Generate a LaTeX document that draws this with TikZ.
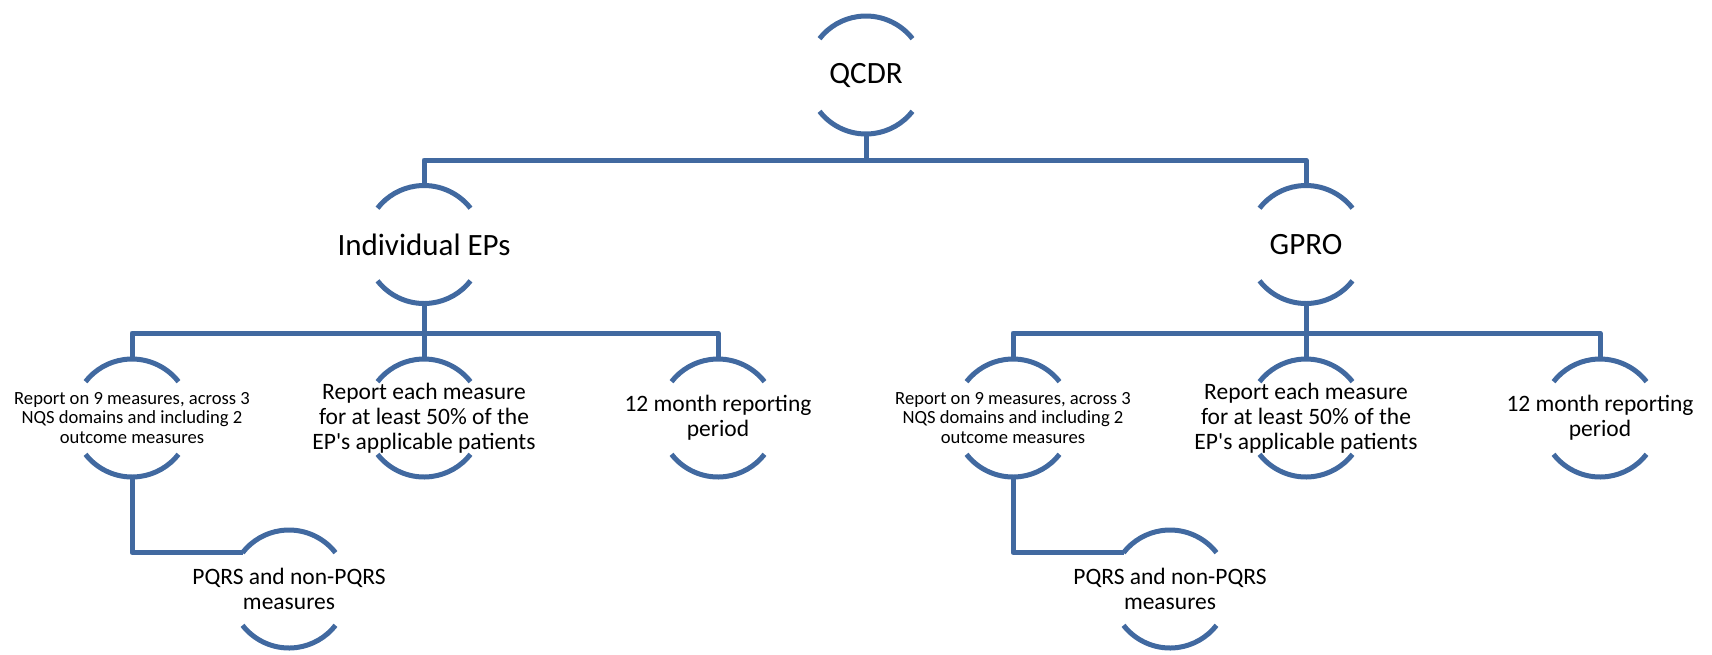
\documentclass[tikz,border=0pt]{standalone}
\usepackage{fontspec}
\setmainfont{Carlito}[Ligatures=TeXOff]
\definecolor{accent}{RGB}{65,105,160}
\begin{document}
\begin{tikzpicture}[x=1pt,y=-1pt,
  ring/.style={circle,minimum size=118pt,inner sep=0pt,outer sep=0pt},
  arcline/.style={draw=accent,line width=5pt},
  link/.style={draw=accent,line width=5pt,line join=round},
  big/.style={font=\fontsize{31}{34}\selectfont,align=center,inner sep=0pt},
  mid/.style={font=\fontsize{23.5}{25}\selectfont,align=center,inner sep=0pt},
  small/.style={font=\fontsize{18.6}{19.5}\selectfont,align=center,inner sep=0pt}]
\useasboundingbox (0,0) rectangle (1712,654);

% ring holders (circles of fixed size; only top and bottom arcs are drawn)
\node[ring] (qcdr) at (866,75) {};
\node[ring] (ind)  at (424,244.5) {};
\node[ring] (gpro) at (1306,244.5) {};
\node[ring] (ia) at (132,418) {};
\node[ring] (ib) at (424,418) {};
\node[ring] (ic) at (718,418) {};
\node[ring] (ga) at (1013,418) {};
\node[ring] (gb) at (1306,418) {};
\node[ring] (gc) at (1600,418) {};
\node[ring] (ip) at (289,589) {};
\node[ring] (gp) at (1170,589) {};

\foreach \n in {qcdr,ind,gpro,ia,ib,ic,ga,gb,gc,ip,gp}
  \draw[arcline] (\n.38) arc[start angle=38,end angle=142,radius=59pt]
                 (\n.218) arc[start angle=218,end angle=322,radius=59pt];

% labels
\node[big] (qcdr-t) at (qcdr) {QCDR};
\node[big] (ind-t)  at (ind) {Individual EPs};
\node[big] (gpro-t) at (gpro) {GPRO};
\node[small] (ia-t) at (ia) {Report on 9 measures, across 3\\NQS domains and including 2\\outcome measures};
\node[mid] (ib-t) at (ib) {Report each measure\\for at least 50\% of the\\EP's applicable patients};
\node[mid] (ic-t) at (ic) {12 month reporting\\period};
\node[small] (ga-t) at (ga) {Report on 9 measures, across 3\\NQS domains and including 2\\outcome measures};
\node[mid] (gb-t) at (gb) {Report each measure\\for at least 50\% of the\\EP's applicable patients};
\node[mid] (gc-t) at (gc) {12 month reporting\\period};
\node[mid] (ip-t) at (ip) {PQRS and non-PQRS\\measures};
\node[mid] (gp-t) at (gp) {PQRS and non-PQRS\\measures};

% connectors
\coordinate (bus0) at (866,160);
\coordinate (bus1) at (424,333);
\coordinate (bus2) at (1306,333);
\draw[link] (qcdr.south) -- (bus0);
\draw[link] (ind.north) |- (bus0) -| (gpro.north);
\draw[link] (ind.south) -- (bus1);
\draw[link] (ia.north) |- (bus1) -| (ic.north);
\draw[link] (bus1) -- (ib.north);
\draw[link] (gpro.south) -- (bus2);
\draw[link] (ga.north) |- (bus2) -| (gc.north);
\draw[link] (bus2) -- (gb.north);
\draw[link] (ia.south) |- (ip.142);
\draw[link] (ga.south) |- (gp.142);
\end{tikzpicture}
\end{document}
